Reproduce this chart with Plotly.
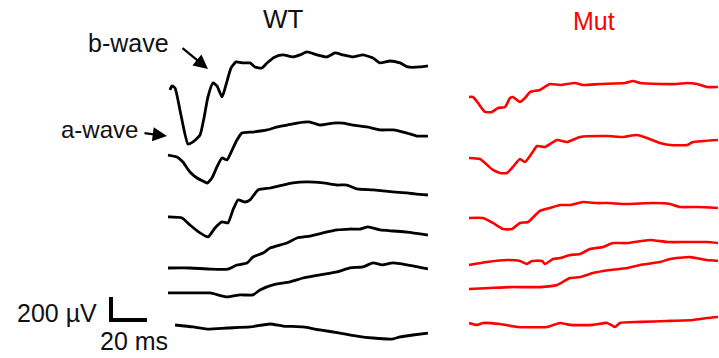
import plotly.graph_objects as go

# ---------------- data (time in ms, response in µV relative to trace start) ----------------
wt1_t = [1.1, 2.2, 3.9, 7.2, 11.1, 13.9, 17.8, 20.0, 22.2, 25.0, 27.2, 30.0, 32.2, 35.0, 37.8, 41.7, 45.6, 48.3, 52.2, 55.0,
         59.4, 63.9, 69.4, 73.3, 77.2, 82.8, 88.3, 92.8, 97.2, 102.8, 108.3, 113.9, 117.8, 123.3, 128.9, 133.3, 140.0, 144.4]
wt1_uv = [0, 35, 17, -218, -470, -452, -392, -244, -61, 61, 35, -61, 43, 191, 244, 235, 235, 200, 191, 235,
          287, 305, 287, 305, 331, 305, 287, 322, 305, 287, 305, 278, 235, 252, 235, 200, 200, 209]

wt2_t = [0, 5.0, 8.3, 12.2, 16.1, 19.4, 21.7, 24.4, 27.2, 30.0, 32.8, 35.6, 38.3, 41.1, 47.2, 55.0, 60.6, 66.1, 71.7, 78.9,
         84.4, 91.7, 97.2, 102.8, 110.6, 117.8, 125.0, 132.8, 138.3, 144.4]
wt2_uv = [0, -17, -61, -148, -200, -226, -244, -200, -104, -26, -43, 43, 130, 191, 200, 218, 244, 261, 278, 287,
          261, 278, 278, 261, 244, 218, 218, 191, 165, 165]

wt3_t = [0, 7.8, 12.2, 17.8, 22.2, 26.1, 30.0, 33.3, 36.1, 38.9, 42.8, 45.6, 50.0, 56.7, 63.9, 69.4, 77.2, 86.1, 93.9,
         99.4, 105.0, 113.9, 125.0, 132.8, 137.2, 144.4]
wt3_uv = [0, -9, -70, -139, -174, -96, -43, -52, 61, 148, 130, 148, 235, 252, 278, 296, 305, 296, 278,
          278, 244, 235, 218, 209, 200, 191]

wt4_t = [0, 12.2, 23.3, 33.3, 38.3, 43.9, 47.2, 52.8, 56.7, 66.1, 71.7, 78.9, 86.1, 93.9, 101.1, 106.7, 111.1, 117.8,
         125.0, 132.8, 144.4]
wt4_uv = [0, 0, -9, -9, 26, 43, 96, 130, 174, 218, 261, 278, 305, 331, 339, 339, 357, 331,
          322, 313, 287]

wt5_t = [0, 12.2, 23.3, 32.8, 40.0, 47.2, 51.1, 58.3, 67.8, 75.0, 84.4, 93.9, 101.1, 108.3, 113.9, 118.9, 125.0, 132.8, 144.4]
wt5_uv = [0, 0, 0, -35, -17, -17, 26, 70, 96, 130, 157, 183, 218, 226, 261, 244, 261, 244, 209]

wt6_t = [3.9, 13.9, 21.7, 32.8, 45.6, 56.7, 63.9, 75.0, 84.4, 95.6, 105.0, 113.9, 124.4, 128.9, 136.1, 144.4]
wt6_uv = [0, -17, -35, -26, -17, 9, -9, -17, -43, -70, -96, -113, -122, -104, -87, -70]

mut1_t = [0, 2.2, 5.0, 8.9, 12.8, 16.1, 20.0, 22.8, 24.4, 28.3, 31.1, 33.9, 39.4, 45.0, 50.6, 58.9, 63.3, 72.8, 86.7,
          91.1, 95.0, 106.1, 115.6, 121.1, 126.7, 132.2, 138.3]
mut1_uv = [0, 0, -52, -130, -130, -96, -87, -9, 0, -43, -9, 43, 61, 113, 104, 122, 104, 113, 122,
           139, 122, 113, 113, 122, 113, 87, 87]

mut2_t = [0, 6.1, 13.3, 17.2, 21.1, 24.4, 28.3, 31.1, 35.0, 37.8, 42.2, 48.9, 54.4, 61.7, 76.7, 85.6, 93.3, 98.9,
          106.1, 111.7, 121.1, 124.4, 138.3]
mut2_uv = [0, -9, -104, -130, -130, -78, -9, -35, 43, 104, 96, 157, 139, 183, 191, 183, 200, 174,
           130, 113, 113, 139, 157]

mut3_t = [0, 7.8, 13.3, 18.9, 23.9, 28.3, 32.8, 39.4, 45.0, 50.6, 56.1, 63.3, 71.1, 76.7, 87.8, 102.2, 111.7, 117.2,
          126.7, 138.3]
mut3_uv = [0, 0, -43, -96, -96, -43, -35, 61, 87, 113, 113, 139, 130, 130, 122, 130, 122, 96,
           96, 87]

mut4_t = [0, 10.0, 21.1, 28.3, 32.2, 35.0, 40.6, 42.2, 46.7, 50.6, 56.1, 61.7, 67.2, 74.4, 80.0, 87.8, 100.6, 110.0,
          121.1, 132.2, 138.3]
mut4_uv = [0, 26, 43, 35, 9, 35, 35, 9, 52, 61, 87, 96, 139, 157, 191, 191, 218, 200,
           200, 200, 191]

mut5_t = [0, 11.7, 22.8, 39.4, 48.9, 56.1, 61.7, 68.9, 78.3, 87.8, 95.0, 106.1, 111.7, 122.8, 132.2, 138.3]
mut5_uv = [0, 9, 17, 17, 35, 96, 104, 139, 165, 183, 209, 235, 261, 278, 252, 244]

mut6_t = [0, 4.4, 7.8, 17.2, 27.2, 43.3, 50.6, 56.1, 68.9, 76.7, 81.1, 83.9, 95.0, 110.0, 124.4, 132.2, 138.3]
mut6_uv = [0, -17, 0, -9, -35, -35, 0, -17, -17, 0, -35, 0, 9, 17, 26, 43, 52]

panel_titles = ["WT", "Mut"]
wave_labels = ["b-wave", "a-wave"]
scale_labels = ["200 µV", "20 ms"]
scale_uv = 200
scale_ms = 20

# ---------------- layout constants ----------------
W, H = 719, 358
PX_PER_MS = 1.8
UV_PER_PX = 8.7
X0_PX = 168                      # WT time zero
MUT_SHIFT_MS = (469 - 168) / PX_PER_MS
wt_offsets = [2332, 1766, 1227, 783, 566, 287]
mut_offsets = [2271, 1740, 1218, 809, 600, 305]

wt_traces = [(wt1_t, wt1_uv), (wt2_t, wt2_uv), (wt3_t, wt3_uv), (wt4_t, wt4_uv), (wt5_t, wt5_uv), (wt6_t, wt6_uv)]
mut_traces = [(mut1_t, mut1_uv), (mut2_t, mut2_uv), (mut3_t, mut3_uv), (mut4_t, mut4_uv), (mut5_t, mut5_uv), (mut6_t, mut6_uv)]

fig = go.Figure()
for (t, v), off in zip(wt_traces, wt_offsets):
    fig.add_trace(go.Scatter(x=t, y=[u + off for u in v], mode="lines",
                             line=dict(color="#000000", width=2.8, shape="spline", smoothing=0.5),
                             hoverinfo="skip", showlegend=False))
for (t, v), off in zip(mut_traces, mut_offsets):
    fig.add_trace(go.Scatter(x=[x + MUT_SHIFT_MS for x in t], y=[u + off for u in v], mode="lines",
                             line=dict(color="#ff0000", width=2.6, shape="spline", smoothing=0.5),
                             hoverinfo="skip", showlegend=False))

# scale bar
sb_t0 = (111 - X0_PX) / PX_PER_MS
sb_v0 = (H - 320) * UV_PER_PX
fig.add_trace(go.Scatter(x=[sb_t0, sb_t0, sb_t0 + scale_ms], y=[sb_v0 + scale_uv, sb_v0, sb_v0],
                         mode="lines", line=dict(color="#000000", width=4),
                         hoverinfo="skip", showlegend=False))

def px(x):
    return x / W

def py(y):
    return 1 - y / H

FONT = "Liberation Sans, Arial, sans-serif"
ann = []
ann.append(dict(x=px(283), y=py(19), text=panel_titles[0], showarrow=False, xanchor="center", yanchor="middle",
                font=dict(family=FONT, size=26, color="#111111")))
ann.append(dict(x=px(594), y=py(21), text=panel_titles[1], showarrow=False, xanchor="center", yanchor="middle",
                font=dict(family=FONT, size=25, color="#ff0000")))
ann.append(dict(x=px(171), y=py(43), text=wave_labels[0], showarrow=False, xanchor="right", yanchor="middle",
                font=dict(family=FONT, size=25, color="#111111")))
ann.append(dict(x=px(140), y=py(129), text=wave_labels[1], showarrow=False, xanchor="right", yanchor="middle",
                font=dict(family=FONT, size=24, color="#111111")))
ann.append(dict(x=px(99), y=py(313), text=scale_labels[0], showarrow=False, xanchor="right", yanchor="middle",
                font=dict(family=FONT, size=25, color="#111111")))
ann.append(dict(x=px(134), y=py(341), text=scale_labels[1], showarrow=False, xanchor="center", yanchor="middle",
                font=dict(family=FONT, size=25, color="#111111")))
# arrows
ann.append(dict(x=px(208), y=py(69), text="", showarrow=True,
                ax=-27, ay=-22, axref="pixel", ayref="pixel",
                arrowhead=2, arrowsize=1.3, arrowwidth=2.2, arrowcolor="#000000"))
ann.append(dict(x=px(167), y=py(136), text="", showarrow=True,
                ax=-24, ay=-3, axref="pixel", ayref="pixel",
                arrowhead=2, arrowsize=1.3, arrowwidth=2.2, arrowcolor="#000000"))
for a in ann:
    a.setdefault("xref", "paper")
    a.setdefault("yref", "paper")

fig.update_layout(
    width=W, height=H,
    margin=dict(l=0, r=0, t=0, b=0),
    paper_bgcolor="white", plot_bgcolor="white",
    xaxis=dict(range=[-X0_PX / PX_PER_MS, (W - X0_PX) / PX_PER_MS], visible=False, fixedrange=True),
    yaxis=dict(range=[0, H * UV_PER_PX], visible=False, fixedrange=True),
    annotations=ann,
)

fig.write_html("out.html", config={"displayModeBar": False},
               post_script="document.body.style.margin='0';document.body.style.overflow='hidden';")
